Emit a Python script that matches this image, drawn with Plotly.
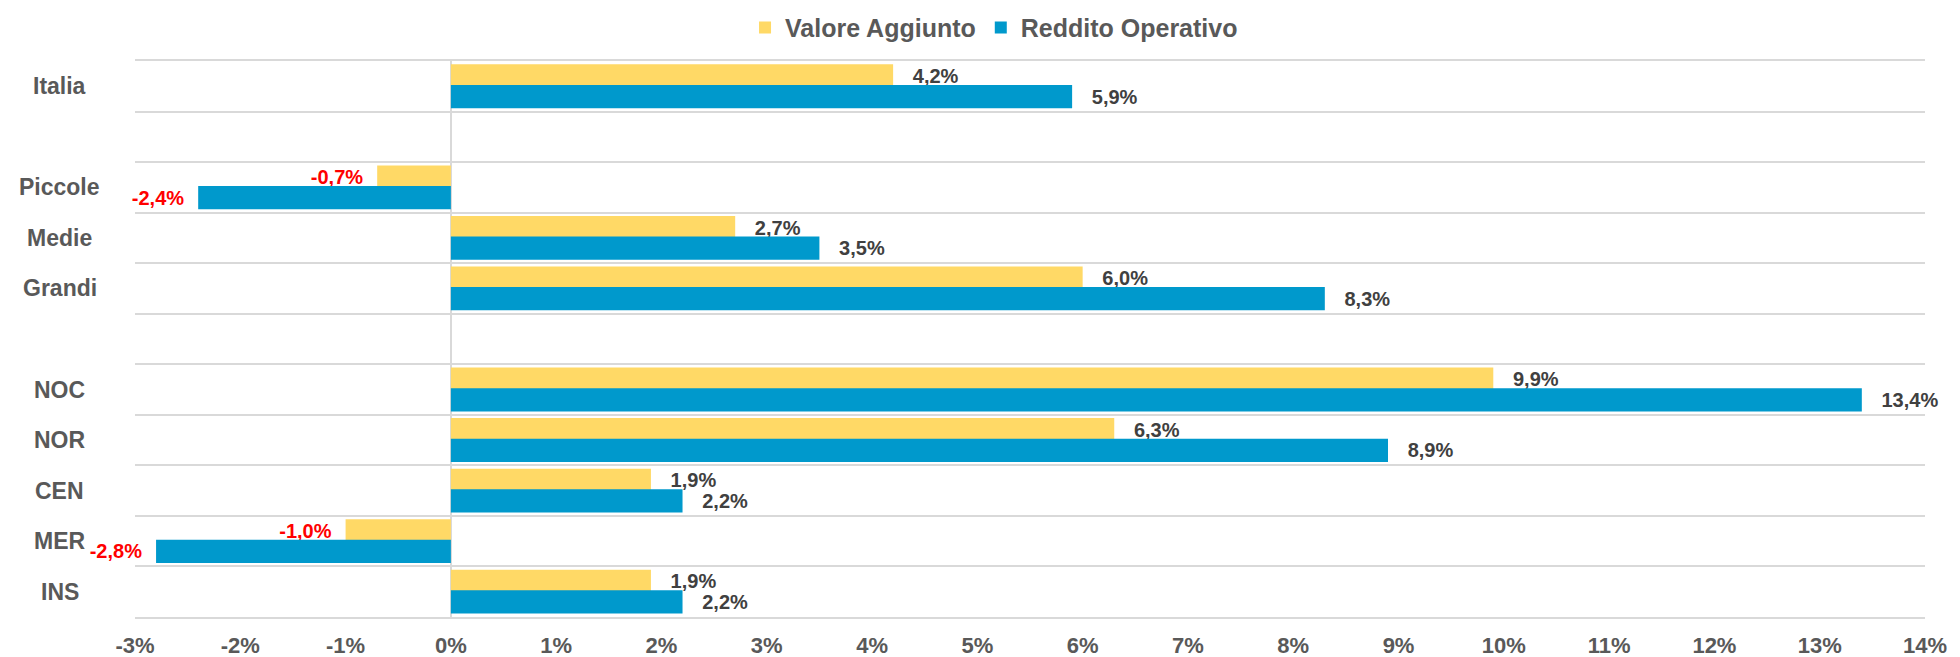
import plotly.graph_objects as go

# Rows from top to bottom; None marks an empty spacer row
categories = ["Italia", None, "Piccole", "Medie", "Grandi", None,
              "NOC", "NOR", "CEN", "MER", "INS"]
valore_aggiunto = [4.2, None, -0.7, 2.7, 6.0, None, 9.9, 6.3, 1.9, -1.0, 1.9]
reddito_operativo = [5.9, None, -2.4, 3.5, 8.3, None, 13.4, 8.9, 2.2, -2.8, 2.2]
x_ticks = list(range(-3, 15))

YELLOW = "#FFD966"
BLUE = "#0099CC"
GRID = "#D9D9D9"
LABEL_GREY = "#595959"
VALUE_GREY = "#404040"
FONT = "Liberation Sans, Arial, Helvetica, sans-serif"

rows = list(range(len(categories)))
NBSP = "\u00a0"


def fmt(v):
    if v is None:
        return ""
    s = f"{v:.1f}".replace(".", ",") + "%"
    return s + NBSP * 2 if v < 0 else NBSP * 3 + s


def colors(vals):
    return ["red" if (v is not None and v < 0) else VALUE_GREY for v in vals]


fig = go.Figure()
fig.add_trace(go.Bar(
    name="Valore Aggiunto", y=rows, x=valore_aggiunto, orientation="h",
    offset=-0.435, width=0.46, marker=dict(color=YELLOW, line=dict(width=0)),
    text=[fmt(v) for v in valore_aggiunto], textposition="outside",
    textfont=dict(family=FONT, size=20, weight="bold", color=colors(valore_aggiunto)),
    constraintext="none", cliponaxis=False, hoverinfo="skip",
))
fig.add_trace(go.Bar(
    name="Reddito Operativo", y=rows, x=reddito_operativo, orientation="h",
    offset=-0.027, width=0.46, marker=dict(color=BLUE, line=dict(width=0)),
    text=[fmt(v) for v in reddito_operativo], textposition="outside",
    textfont=dict(family=FONT, size=20, weight="bold", color=colors(reddito_operativo)),
    constraintext="none", cliponaxis=False, hoverinfo="skip",
))

# Row labels, centred in the column left of the plot
for i, name in enumerate(categories):
    if name is None:
        continue
    fig.add_annotation(
        x=-0.0419, xref="paper", y=i, yref="y", text=name, showarrow=False,
        xanchor="center", yanchor="middle",
        font=dict(family=FONT, size=23, weight="bold", color=LABEL_GREY),
    )

fig.update_layout(
    width=1960, height=657,
    margin=dict(l=135, r=35, t=61, b=40, autoexpand=False),
    paper_bgcolor="white", plot_bgcolor="white",
    barmode="overlay",
    showlegend=True,
    legend=dict(
        orientation="h", x=0.3408, xanchor="left", y=1.06, yanchor="middle",
        font=dict(family=FONT, size=25, weight="bold", color=LABEL_GREY),
        itemwidth=30, traceorder="normal",
    ),
    xaxis=dict(
        range=[-3, 14], tickvals=x_ticks, ticktext=[f"{t}%" for t in x_ticks],
        showgrid=False, zeroline=True, zerolinecolor=GRID, zerolinewidth=2,
        showline=True, mirror=True, linecolor=GRID, linewidth=1.5,
        ticks="", ticklabelstandoff=8, automargin=False,
        tickfont=dict(family=FONT, size=22, weight="bold", color=LABEL_GREY),
    ),
    yaxis=dict(
        range=[len(categories) - 0.5, -0.5], tick0=-0.5, dtick=1,
        showgrid=True, gridcolor=GRID, gridwidth=1.5, automargin=False,
        zeroline=False, showticklabels=False, ticks="", showline=False,
    ),
)

fig.write_html("out.html")
